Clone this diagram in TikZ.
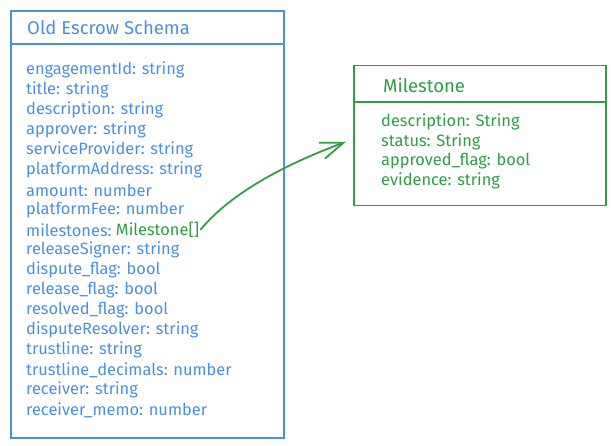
\documentclass[tikz,border=0pt]{standalone}
\usepackage{fontspec}
\setmainfont{Fira Sans}
\usetikzlibrary{arrows.meta}
\usetikzlibrary{positioning}
\definecolor{schemablue}{HTML}{4A90E2}
\definecolor{schemagreen}{HTML}{2F9E44}

\begin{document}
\begin{tikzpicture}[
    x=1pt, y=-1pt,
    table/.style={draw, anchor=north west, inner sep=0pt},
    tabletitle/.style={anchor=west, inner sep=0pt, font=\fontsize{18.5}{22}\selectfont},
    field/.style={anchor=west, inner sep=0pt, font=\fontsize{16.4}{20}\selectfont},
    link/.style={-{Straight Barb[length=23pt, width=17pt]}, line width=1.8pt, draw=schemagreen},
  ]
  \useasboundingbox (0,0) rectangle (614,446);

  % === Old Escrow Schema ===
  \node[table, draw=schemablue, line width=1.8pt,
    minimum width=273pt, minimum height=427pt] (old) at (10,10) {};
  \draw[schemablue, line width=1.8pt]
    ([yshift=-34pt]old.north west) -- ([yshift=-34pt]old.north east);
  \node[tabletitle, text=schemablue] (oldtitle) at (27,28) {Old Escrow Schema};

  \foreach \y/\f in {70/engagementId: string, 90/title: string,
      110/description: string, 130/approver: string,
      150/serviceProvider: string, 170/platformAddress: string,
      190/amount: number, 210/platformFee: number,
      250/releaseSigner: string, 270/dispute\_flag: bool,
      290/release\_flag: bool, 310/resolved\_flag: bool,
      330/disputeResolver: string, 350/trustline: string,
      370/trustline\_decimals: number, 390/receiver: string,
      410/receiver\_memo: number} {
    \node[field, text=schemablue] at (26,\y) {\f};
  }
  \node[field, text=schemablue] (msfield) at (26,230) {milestones:};
  \node[field, text=schemagreen, right=4pt of msfield] (msref) {Milestone[]};

  % === Milestone ===
  \node[table, draw=schemagreen, line width=1.5pt,
    minimum width=252pt, minimum height=140pt] (ms) at (353,65) {};
  \draw[schemagreen, line width=1.5pt]
    ([yshift=-37pt]ms.north west) -- ([yshift=-37pt]ms.north east);
  \node[tabletitle, text=schemagreen] (mstitle) at (383,85) {Milestone};

  \foreach \y/\f in {122/description: String, 142/status: String,
      161/approved\_flag: bool, 181/evidence: string} {
    \node[field, text=schemagreen] at (381,\y) {\f};
  }

  \draw[link] ([xshift=1pt]msref.east) .. controls (225,200) and (270,170)
    .. ([xshift=-7pt, yshift=-6pt]ms.west);
\end{tikzpicture}
\end{document}
